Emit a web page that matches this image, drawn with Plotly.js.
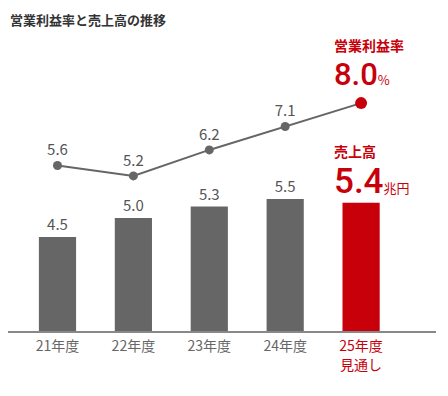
<!DOCTYPE html>
<html><head><meta charset="utf-8">
<script src="https://cdn.plot.ly/plotly-3.0.1.min.js"></script>
<style>html,body{margin:0;padding:0;background:#fff}#c{width:448px;height:396px}</style>
</head><body><div id="c"></div>
<script>
const categories = ["21年度", "22年度", "23年度", "24年度", "25年度<br>見通し"];
const sales = [4.5, 5.0, 5.3, 5.5, 5.4];          // 売上高 (兆円)
const margin = [5.6, 5.2, 6.2, 7.1, 8.0];         // 営業利益率 (%)
const highlightIndex = 4;

const GRAY = "#666666", RED = "#c8000a";
const FONT = "'Noto Sans CJK JP', 'Noto Sans', sans-serif";
const NUMFONT = "Roboto, 'Noto Sans CJK JP', sans-serif";

const xs = categories.map((_, i) => i);
const tickText = categories.map((c, i) => i === highlightIndex ? `<span style="color:${RED}">${c}</span>` : c);

const barTrace = {
  type: "bar", x: xs, y: sales, yaxis: "y",
  width: 0.49,
  marker: {color: xs.map(i => i === highlightIndex ? RED : GRAY), line: {width: 0}},
  text: sales.map((v, i) => i === highlightIndex ? "" : v.toFixed(1)),
  textposition: "outside", cliponaxis: false,
  textfont: {family: FONT, size: 15, color: "#555"},
  hoverinfo: "skip"
};
const lineTrace = {
  type: "scatter", mode: "lines+markers+text", x: xs, y: margin, yaxis: "y2",
  line: {color: GRAY, width: 2},
  marker: {color: xs.map(i => i === highlightIndex ? RED : GRAY), size: xs.map(i => i === highlightIndex ? 12 : 9),
           opacity: 1, line: {width: 0}},
  text: margin.map((v, i) => i === highlightIndex ? "" : v.toFixed(1)),
  textposition: "top center", cliponaxis: false,
  textfont: {family: FONT, size: 15, color: "#555"},
  hoverinfo: "skip"
};

const last = highlightIndex;
const layout = {
  width: 448, height: 396,
  margin: {l: 8, r: 12, t: 40, b: 65},
  paper_bgcolor: "#fff", plot_bgcolor: "#fff",
  showlegend: false,
  font: {family: FONT},
  title: {text: "営業利益率と売上高の推移", x: 10/448, xanchor: "left", y: 1 - 20/396, yanchor: "middle",
          font: {family: FONT, size: 13, color: "#333", weight: 700}},
  xaxis: {range: [-0.652, 4.987], tickvals: xs, ticktext: tickText, showgrid: false, zeroline: false,
          showline: true, linecolor: "#888", linewidth: 1.5, ticks: "", ticklabelstandoff: 2,
          tickfont: {family: FONT, size: 14, color: "#666"}, fixedrange: true},
  yaxis: {range: [2.026, 9.684], visible: false, fixedrange: true},
  yaxis2: {range: [-0.765, 10.428], overlaying: "y", visible: false, fixedrange: true},
  annotations: [
    {xref: "paper", yref: "paper", x: (333-8)/428, y: (331-64)/291, xanchor: "left", yanchor: "middle", align: "left",
     text: `<span style="font-family:'Noto Sans CJK JP';font-size:14px;font-weight:bold">営業利益率</span><br><span style="font-size:31px;font-weight:500">${margin[last].toFixed(1)}</span><span style="font-size:13px;font-family:'Noto Sans CJK JP'">%</span>`,
     showarrow: false, borderpad: 0, font: {family: NUMFONT, size: 26, color: RED}},
    {xref: "paper", yref: "paper", x: (333-8)/428, y: (331-171)/291, xanchor: "left", yanchor: "middle", align: "left",
     text: `<span style="font-family:'Noto Sans CJK JP';font-size:14px;font-weight:bold">売上高</span><br><span style="font-size:35px;font-weight:500">${sales[last].toFixed(1)}</span><span style="font-size:13px;font-family:'Noto Sans CJK JP'">兆円</span>`,
     showarrow: false, borderpad: 0, font: {family: NUMFONT, size: 28, color: RED}}
  ]
};

Plotly.newPlot("c", [barTrace, lineTrace], layout, {displayModeBar: false, staticPlot: true});
</script></body></html>
